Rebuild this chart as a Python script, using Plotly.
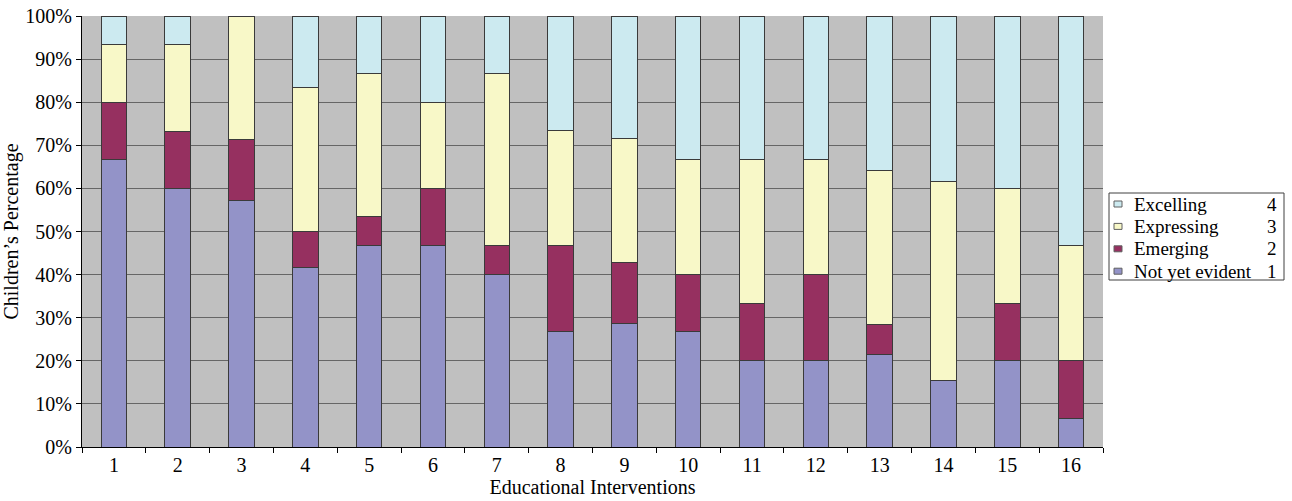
import plotly.graph_objects as go

categories = [str(i) for i in range(1, 17)]

# Share of children at each level per intervention (%)
not_yet_evident = [66.7, 60.0, 57.1, 41.7, 46.7, 46.7, 40.0, 26.7, 28.6, 26.7, 20.0, 20.0, 21.4, 15.4, 20.0, 6.7]
emerging =        [13.3, 13.3, 14.3, 8.3, 6.7, 13.3, 6.7, 20.0, 14.3, 13.3, 13.3, 20.0, 7.1, 0.0, 13.3, 13.3]
expressing =      [13.3, 20.0, 28.6, 33.3, 33.3, 20.0, 40.0, 26.7, 28.6, 26.7, 33.3, 26.7, 35.7, 46.2, 26.7, 26.7]
excelling =       [6.7, 6.7, 0.0, 16.7, 13.3, 20.0, 13.3, 26.6, 28.5, 33.3, 33.4, 33.3, 35.8, 38.4, 40.0, 53.3]

level_names = ["Not yet evident", "Emerging", "Expressing", "Excelling"]
level_numbers = ["1", "2", "3", "4"]
level_values = [not_yet_evident, emerging, expressing, excelling]
level_colors = ["#9393C8", "#963060", "#F8F8C8", "#CCEAF0"]

W, H = 1292, 501
M = dict(l=82, r=189, t=16, b=54)
PW = W - M["l"] - M["r"]
PH = H - M["t"] - M["b"]


def px_x(x):
    """Pixel column -> paper x."""
    return (x - M["l"]) / PW


def px_y(y):
    """Pixel row (from top) -> paper y."""
    return (H - M["b"] - y) / PH


fig = go.Figure()
for name, vals, color in zip(level_names, level_values, level_colors):
    fig.add_trace(go.Bar(
        x=categories, y=vals, name=name,
        marker=dict(color=color, line=dict(color="#3a3a3a", width=1)),
    ))

font = "Liberation Serif"
fig.update_layout(
    barmode="stack",
    bargap=0.6,
    width=W, height=H,
    margin=M,
    paper_bgcolor="white",
    plot_bgcolor="#C0C0C0",
    font=dict(family=font, size=20, color="black"),
    showlegend=False,
    xaxis=dict(
        type="category",
        tickson="boundaries",
        ticks="outside", ticklen=5, tickcolor="black",
        showline=True, linecolor="black", linewidth=1,
        showgrid=False, automargin=False,
        tickfont=dict(family=font, size=20),
        title=dict(text="Educational Interventions", standoff=4, font=dict(family=font, size=20)),
    ),
    yaxis=dict(
        range=[0, 100],
        tickvals=list(range(0, 101, 10)),
        ticktext=[f"{v}%" for v in range(0, 101, 10)],
        ticks="outside", ticklen=5, tickcolor="black",
        showline=True, linecolor="black", linewidth=1,
        showgrid=True, gridcolor="#666666", gridwidth=1,
        zeroline=False, automargin=False,
        tickfont=dict(family=font, size=20),
        title=dict(text="Children’s Percentage", standoff=11, font=dict(family=font, size=20)),
    ),
)

# Legend box, drawn in paper space: highest level on top
box_l, box_r, box_t, box_b = 1109, 1284, 193, 280
fig.add_shape(type="rect", xref="paper", yref="paper",
              x0=px_x(box_l), x1=px_x(box_r), y0=px_y(box_b), y1=px_y(box_t),
              line=dict(color="#404040", width=1), fillcolor="white", layer="above")

row_top = 204
row_step = 22.4
for i, idx in enumerate(reversed(range(len(level_names)))):
    cy = row_top + i * row_step
    fig.add_shape(type="rect", xref="paper", yref="paper",
                  x0=px_x(1114), x1=px_x(1122), y0=px_y(cy + 3), y1=px_y(cy - 3),
                  line=dict(color="#606060", width=1), fillcolor=level_colors[idx], layer="above")
    fig.add_annotation(xref="paper", yref="paper", x=px_x(1132), y=px_y(cy),
                       xanchor="left", yanchor="middle", showarrow=False,
                       text=level_names[idx], font=dict(family=font, size=19))
    fig.add_annotation(xref="paper", yref="paper", x=px_x(1279), y=px_y(cy),
                       xanchor="right", yanchor="middle", showarrow=False,
                       text=level_numbers[idx], font=dict(family=font, size=19))

fig.write_html("out.html")
